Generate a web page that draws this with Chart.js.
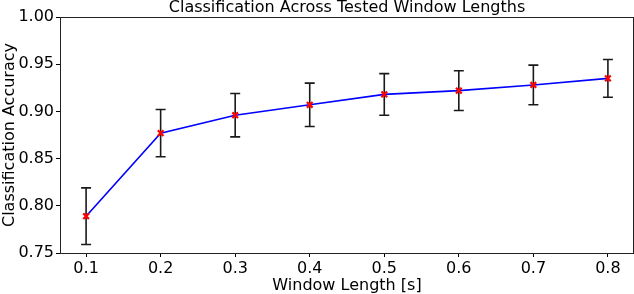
<!DOCTYPE html>
<html>
<head>
<meta charset="utf-8">
<script src="https://cdn.jsdelivr.net/npm/chart.js@4"></script>
<style>
  html, body { margin: 0; padding: 0; background: #fff; }
  #wrap { width: 634px; height: 294px; }
</style>
</head>
<body>
<div id="wrap"><canvas id="chart"></canvas></div>
<script>
// values
const windowLengths = [0.1, 0.2, 0.3, 0.4, 0.5, 0.6, 0.7, 0.8];
const accuracy = [0.789, 0.877, 0.896, 0.907, 0.918, 0.922, 0.928, 0.935];
const accuracyErr = [0.030, 0.025, 0.023, 0.023, 0.022, 0.021, 0.021, 0.020];
const xTickValues = [0.1, 0.2, 0.3, 0.4, 0.5, 0.6, 0.7, 0.8];
const yTickValues = [0.75, 0.80, 0.85, 0.90, 0.95, 1.00];
const chartTitle = 'Classification Across Tested Window Lengths';

const FONT = "'DejaVu Sans', sans-serif";

const errorBarPlugin = {
    id: 'errorBars',
    beforeDatasetsDraw(chart) {
        const ctx = chart.ctx;
        const xs = chart.scales.x, ys = chart.scales.y;
        ctx.save();
        ctx.strokeStyle = '#1a1a1a';
        ctx.lineWidth = 1.6;
        windowLengths.forEach((w, i) => {
            const px = xs.getPixelForValue(w);
            const top = ys.getPixelForValue(accuracy[i] + accuracyErr[i]);
            const bot = ys.getPixelForValue(accuracy[i] - accuracyErr[i]);
            ctx.beginPath();
            ctx.moveTo(px, top); ctx.lineTo(px, bot);
            ctx.moveTo(px - 5, top); ctx.lineTo(px + 5, top);
            ctx.moveTo(px - 5, bot); ctx.lineTo(px + 5, bot);
            ctx.stroke();
        });
        ctx.restore();
    }
};

// frame around the plot area plus a title centred over it (matplotlib style)
const framePlugin = {
    id: 'frame',
    afterDraw(chart) {
        const { left, top, right, bottom } = chart.chartArea;
        const ctx = chart.ctx;
        ctx.save();
        ctx.strokeStyle = '#222';
        ctx.lineWidth = 1;
        ctx.strokeRect(Math.round(left) + 0.5, Math.round(top) + 0.5, Math.round(right - left) - 1, Math.round(bottom - top));
        ctx.fillStyle = '#000';
        ctx.font = '16px ' + FONT;
        ctx.textAlign = 'center';
        ctx.textBaseline = 'alphabetic';
        ctx.fillText(chartTitle, (left + right) / 2, top - 5);
        ctx.restore();
    }
};

new Chart(document.getElementById('chart'), {
    type: 'line',
    data: {
        datasets: [{
            data: windowLengths.map((w, i) => ({ x: w, y: accuracy[i] })),
            borderColor: '#0000ff',
            borderWidth: 1.6,
            pointStyle: 'crossRot',
            pointRadius: 4,
            pointBorderWidth: 2.2,
            pointBorderColor: '#ff0000',
            pointBackgroundColor: '#ff0000',
            tension: 0
        }]
    },
    plugins: [errorBarPlugin, framePlugin],
    options: {
        responsive: true, maintainAspectRatio: false, animation: false,
        layout: { autoPadding: false, padding: { left: 0, right: 0, top: 17, bottom: 0 } },
        plugins: {
            legend: { display: false },
            tooltip: { enabled: false },
            title: { display: false }
        },
        scales: {
            x: {
                type: 'linear', min: 0.065, max: 0.835,
                afterBuildTicks: s => { s.ticks = xTickValues.map(v => ({ value: v })); },
                afterFit: s => { s.height = 41; s.paddingLeft = 0; s.paddingRight = 0; },
                grid: { drawOnChartArea: false, drawTicks: true, tickLength: 4, color: '#000' },
                border: { display: false },
                ticks: { color: '#000', padding: 2, maxRotation: 0, font: { family: FONT, size: 16 },
                    callback: v => v.toFixed(1) },
                title: { display: true, text: 'Window Length [s]', color: '#000',
                    font: { family: FONT, size: 16 }, padding: { top: 0, bottom: -1 } }
            },
            y: {
                min: 0.75, max: 1.0,
                afterBuildTicks: s => { s.ticks = yTickValues.map(v => ({ value: v })); },
                afterFit: s => { s.width = 60; s.paddingTop = 0; s.paddingBottom = 0; },
                grid: { drawOnChartArea: false, drawTicks: true, tickLength: 4, color: '#000' },
                border: { display: false },
                ticks: { color: '#000', padding: 2, font: { family: FONT, size: 16 },
                    callback: v => v.toFixed(2) },
                title: { display: true, text: 'Classification Accuracy', color: '#000',
                    font: { family: FONT, size: 16 }, padding: { top: 0, bottom: 0 } }
            }
        }
    }
});
</script>
</body>
</html>
